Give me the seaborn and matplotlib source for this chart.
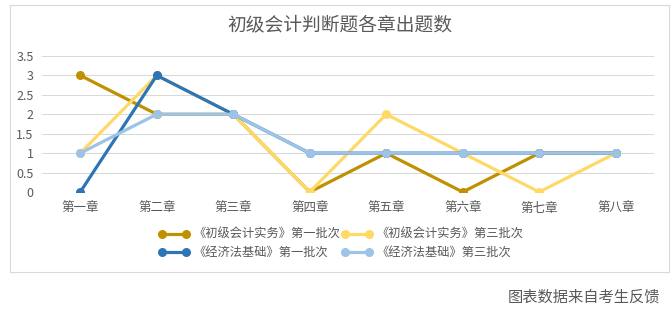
import pandas as pd
import matplotlib.pyplot as plt
import seaborn as sns
from matplotlib.patches import Rectangle

chapters = ['第一章', '第二章', '第三章', '第四章', '第五章', '第六章', '第七章', '第八章']
series_names = ['《初级会计实务》第一批次', '《初级会计实务》第三批次',
                '《经济法基础》第一批次', '《经济法基础》第三批次']
shiwu_first = [3, 2, 2, 0, 1, 0, 1, 1]
shiwu_third = [1, 3, 2, 0, 2, 1, 0, 1]
jingji_first = [0, 3, 2, 1, 1, 1, 1, 1]
jingji_third = [1, 2, 2, 1, 1, 1, 1, 1]
colors = ['#BF9000', '#FFD966', '#2E75B6', '#9DC3E6']

values = [shiwu_first, shiwu_third, jingji_first, jingji_third]
rows = []
for name, vals in zip(series_names, values):
    for ch, v in zip(chapters, vals):
        rows.append({'chapter': ch, 'count': v, 'series': name})
df = pd.DataFrame(rows)

sns.set_style('white')
plt.rcParams['font.family'] = ['Noto Sans CJK SC', 'DejaVu Sans']
text_color = '#595959'

fig = plt.figure(figsize=(6.71, 3.10), dpi=100)
ax = fig.add_axes([42 / 671, 118 / 310, 612 / 671, 136 / 310])

sns.lineplot(data=df, x='chapter', y='count', hue='series', hue_order=series_names,
             palette=dict(zip(series_names, colors)), marker='o', markersize=6.5,
             markeredgewidth=0, linewidth=2.3, sort=False, ax=ax, legend=False)

ax.set_xlim(-0.5, 7.5)
ax.set_ylim(0, 3.5)
ax.set_yticks([0, 0.5, 1, 1.5, 2, 2.5, 3, 3.5])
ax.set_yticklabels(['0', '0.5', '1', '1.5', '2', '2.5', '3', '3.5'])
ax.set_xlabel('')
ax.set_ylabel('')
ax.grid(axis='y', color='#D9D9D9', linewidth=0.75)
ax.set_axisbelow(True)
for s in ax.spines.values():
    s.set_visible(False)
ax.tick_params(axis='both', length=0, labelsize=9, colors=text_color)
ax.tick_params(axis='x', pad=7)
ax.tick_params(axis='y', pad=6)

# legend, reordered so rows read like the original
lines = ax.get_lines()
series_lines = [l for l in lines if len(l.get_xdata()) == len(chapters)]
order = [0, 2, 1, 3]
leg = fig.legend([series_lines[i] for i in order], [series_names[i] for i in order],
                 ncol=2, loc='center', bbox_to_anchor=(341 / 671, 1 - 243.5 / 310),
                 frameon=False, fontsize=8.8, numpoints=2, handlelength=2.6,
                 handletextpad=0.3, columnspacing=0.05, labelspacing=0.4, borderpad=0)
for t in leg.get_texts():
    t.set_color(text_color)

fig.text(340 / 671, 1 - 25 / 310, '初级会计判断题各章出题数', ha='center', va='center',
         fontsize=13.5, color=text_color)
fig.text(660 / 671, 1 - 297 / 310, '图表数据来自考生反馈', ha='right', va='center',
         fontsize=11, color=text_color)

fig.patches.append(Rectangle((10 / 671, 38 / 310), 659 / 671, 267 / 310,
                             transform=fig.transFigure, fill=False,
                             edgecolor='#D9D9D9', linewidth=0.8))

fig.savefig('out.png', dpi=100)
